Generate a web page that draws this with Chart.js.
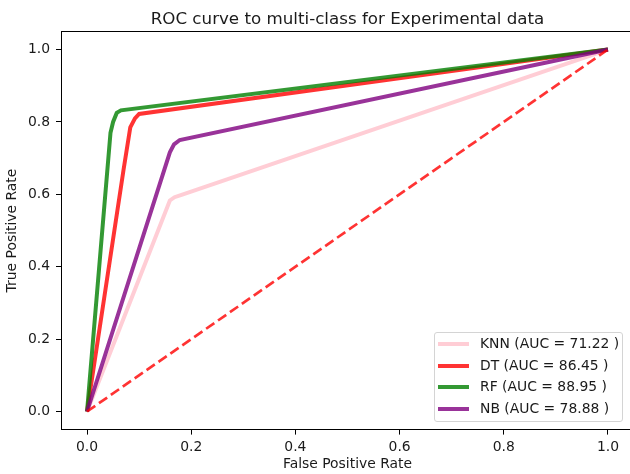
<!DOCTYPE html>
<html>
<head>
<meta charset="utf-8">
<script src="https://cdn.jsdelivr.net/npm/chart.js@4/dist/chart.umd.min.js"></script>
<style>
  html, body { margin: 0; padding: 0; background: #fff; overflow: hidden; }
  #wrap { position: relative; width: 640px; height: 474px; }
  #legend {
    position: absolute; left: 434px; top: 332px; width: 187px; height: 88px;
    border: 1px solid #d4d4d4; border-radius: 3px; background: rgba(255,255,255,0.8);
    font-family: 'DejaVu Sans', sans-serif; font-size: 13.9px; color: #1a1a1a;
  }
  .row { height: 21.7px; line-height: 21.7px; display: flex; align-items: center; white-space: nowrap; }
  .swatch { width: 31px; height: 4px; margin-left: 3px; margin-right: 11px; }
</style>
</head>
<body>
<div id="wrap">
  <canvas id="roc" width="640" height="474"></canvas>
  <div id="legend"></div>
</div>
<script>
'use strict';
// model names and auc scores (legend)
var modelNames = ['KNN', 'DT', 'RF', 'NB'];
var aucScores = ['71.22', '86.45', '88.95', '78.88'];
var lineColors = ['rgba(255,192,203,0.8)', 'rgba(255,0,0,0.8)', 'rgba(0,128,0,0.8)', 'rgba(128,0,128,0.8)'];

// false positive rate / true positive rate
var knnFpr = [0, 0.159, 0.168, 0.18, 1];
var knnTpr = [0, 0.583, 0.592, 0.598, 1];
var dtFpr = [0, 0.07, 0.083, 0.092, 0.1, 1];
var dtTpr = [0, 0.667, 0.785, 0.81, 0.822, 1];
var rfFpr = [0, 0.045, 0.05, 0.057, 0.065, 1];
var rfTpr = [0, 0.77, 0.8, 0.825, 0.832, 1];
var nbFpr = [0, 0.159, 0.167, 0.178, 1];
var nbTpr = [0, 0.716, 0.738, 0.75, 1];
var chanceFpr = [0, 1];
var chanceTpr = [0, 1];

// tick labels on both axes
var xTicks = [0, 0.2, 0.4, 0.6, 0.8, 1.0];
var yTicks = [0, 0.2, 0.4, 0.6, 0.8, 1.0];

var allFpr = [knnFpr, dtFpr, rfFpr, nbFpr];
var allTpr = [knnTpr, dtTpr, rfTpr, nbTpr];

function toPoints(xs, ys) {
  var pts = [];
  for (var i = 0; i < xs.length; i++) {
    pts.push({ x: xs[i], y: ys[i] });
  }
  return pts;
}

// build datasets, later ones drawn on top like matplotlib
function buildDatasets() {
  var sets = [];
  for (var i = 0; i < modelNames.length; i++) {
    sets.push({
      label: modelNames[i] + ' (AUC = ' + aucScores[i] + ' )',
      data: toPoints(allFpr[i], allTpr[i]),
      borderColor: lineColors[i],
      borderWidth: 4,
      order: modelNames.length - i + 1
    });
  }
  sets.push({
    label: 'chance',
    data: toPoints(chanceFpr, chanceTpr),
    borderColor: 'rgba(255,0,0,0.8)',
    borderWidth: 2.7,
    borderDash: [10, 4.5],
    order: 1
  });
  return sets;
}

// top and right spines
var framePlugin = {
  id: 'frame',
  afterDraw: function(chart) {
    var a = chart.chartArea;
    var ctx = chart.ctx;
    ctx.save();
    ctx.strokeStyle = '#000';
    ctx.lineWidth = 1;
    ctx.strokeRect(Math.round(a.left) + 0.5, Math.round(a.top) + 0.5, Math.round(a.right - a.left), Math.round(a.bottom - a.top));
    ctx.restore();
  }
};

function setTicks(list) {
  return function(scale) {
    scale.ticks = list.map(function(v) { return { value: v }; });
  };
}

function fmt(v) {
  return Number(v).toFixed(1);
}

function makeLegend() {
  var box = document.getElementById('legend');
  for (var i = 0; i < modelNames.length; i++) {
    var row = document.createElement('div');
    row.className = 'row';
    row.innerHTML = '<span class="swatch" style="background:' + lineColors[i] + '"></span>' +
      '<span>' + modelNames[i] + ' (AUC = ' + aucScores[i] + ' )</span>';
    box.appendChild(row);
  }
}

Chart.defaults.font.family = "'DejaVu Sans', sans-serif";
Chart.defaults.color = '#1a1a1a';

var ctx = document.getElementById('roc').getContext('2d');
var chart = new Chart(ctx, {
  type: 'scatter',
  data: { datasets: buildDatasets() },
  options: {
    responsive: false,
    animation: false,
    showLine: true,
    elements: { point: { radius: 0, hoverRadius: 0 }, line: { tension: 0, fill: false } },
    layout: { padding: { left: 0, right: 6, top: 0, bottom: 0 } },
    plugins: {
      legend: { display: false },
      tooltip: { enabled: false },
      title: {
        display: true,
        fullSize: false,
        text: 'ROC curve to multi-class for Experimental data',
        font: { size: 16.7, weight: 'normal' },
        color: '#1a1a1a',
        padding: { top: 10, bottom: 1.4 }
      }
    },
    scales: {
      x: {
        type: 'linear',
        min: -0.05,
        max: 1.05,
        afterBuildTicks: setTicks(xTicks),
        afterFit: function(scale) { scale.height = 44.4; },
        grid: { drawOnChartArea: false, drawTicks: true, tickLength: 5, tickColor: '#000', tickWidth: 1 },
        border: { display: false },
        ticks: { font: { size: 13.9 }, padding: 4, maxRotation: 0, callback: fmt },
        title: { display: true, text: 'False Positive Rate', font: { size: 13.9 }, padding: { top: 0, bottom: 1 } }
      },
      y: {
        type: 'linear',
        min: -0.05,
        max: 1.05,
        afterBuildTicks: setTicks(yTicks),
        afterFit: function(scale) { scale.width = 61; },
        grid: { drawOnChartArea: false, drawTicks: true, tickLength: 5, tickColor: '#000', tickWidth: 1 },
        border: { display: false },
        ticks: { font: { size: 13.9 }, padding: 6, callback: fmt },
        title: { display: true, text: 'True Positive Rate', font: { size: 13.9 }, padding: { top: 4, bottom: 0 } }
      }
    }
  },
  plugins: [framePlugin]
});

makeLegend();
</script>
</body>
</html>
